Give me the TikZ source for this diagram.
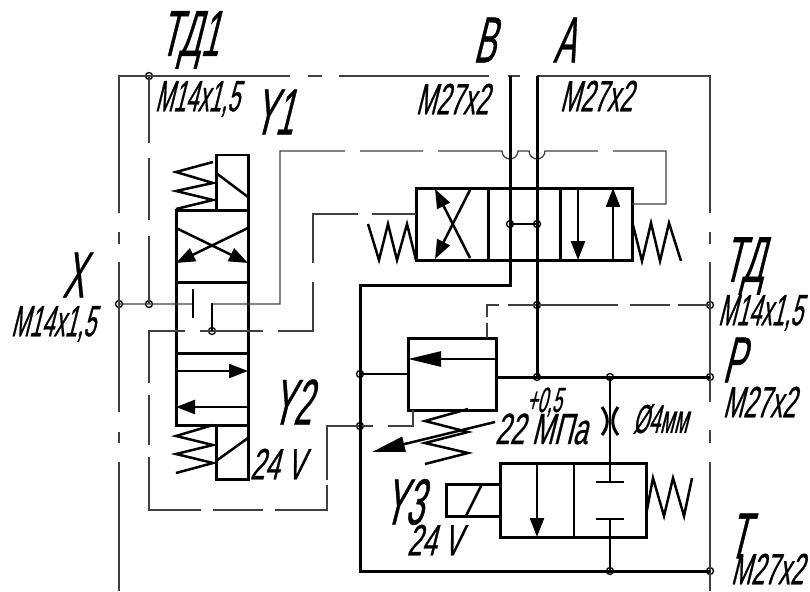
\documentclass[tikz,border=0pt]{standalone}
\usepackage{fontspec}
\usetikzlibrary{arrows.meta}
\newfontfamily\gostbig[FakeSlant=.25,FakeStretch=.5,FakeBold=.5]{Liberation Sans}
\newfontfamily\gostmid[FakeSlant=.25,FakeStretch=.55,FakeBold=.5]{Liberation Sans}
\newfontfamily\gostsmall[FakeSlant=.25,FakeStretch=.6,FakeBold=.5]{Liberation Sans}
\def\pxu{0.02cm}
\tikzstyle{signal} = [line width=0.026cm,black!75]
\tikzstyle{pipe} = [line width=0.06cm,black]
\tikzstyle{medium} = [line width=0.05cm,black]
\tikzstyle{spring} = [line width=0.05cm,black,line join=miter]
\tikzstyle{flow} = [line width=0.05cm,black,-{Triangle[length=0.38cm,width=0.28cm]}]
\tikzstyle{flowlong} = [line width=0.05cm,black,-{Triangle[length=0.66cm,width=0.3cm]}]
\tikzstyle{port} = [circle,draw=black,line width=0.026cm,inner sep=0pt,minimum size=7*\pxu]
\tikzstyle{valvebox} = [draw=black,line width=0.06cm,inner sep=0pt,outer sep=0pt]
\tikzstyle{biglabel} = [inner sep=0pt,font=\gostbig\fontsize{37}{37}\selectfont]
\tikzstyle{thread} = [inner sep=0pt,font=\gostbig\fontsize{25}{25}\selectfont]
\tikzstyle{threadwide} = [inner sep=0pt,font=\gostmid\fontsize{25}{25}\selectfont]
\tikzstyle{volt} = [inner sep=0pt,font=\gostsmall\fontsize{25}{25}\selectfont]

\begin{document}
\begin{tikzpicture}[x=0.02cm,y=-0.02cm]
        \useasboundingbox (0,0) rectangle (810,591);

        % Ports and junctions
        \node (portTDa) at (149,76) [port] {};
        \node (portXa) at (119,304) [port] {};
        \node (portTDb) at (149,304) [port] {};
        \node (pinY) at (212,331) [port] {};
        \node (junBa) at (510,224) [port] {};
        \node (junAa) at (537,224) [port] {};
        \node (junAb) at (537,305) [port] {};
        \node (junAc) at (537,377) [port] {};
        \node (junTa) at (360,374) [port] {};
        \node (junTb) at (360,426) [port] {};
        \node (junPa) at (610,377) [port] {};
        \node (junTc) at (610,571) [port] {};
        \node (portTDc) at (710,305) [port] {};
        \node (portP) at (710,377) [port] {};
        \node (portT) at (710,571) [port] {};

        % Valve bodies
        \node (pilotbody) at (212,317.5) [valvebox,minimum width=72*\pxu,minimum height=215*\pxu] {};
        \node (soltop) at (232,182.5) [valvebox,minimum width=32*\pxu,minimum height=55*\pxu] {};
        \node (solbot) at (232,452) [valvebox,minimum width=32*\pxu,minimum height=54*\pxu] {};
        \node (mainbody) at (524,224) [valvebox,minimum width=216*\pxu,minimum height=72*\pxu] {};
        \node (reliefbody) at (452,374) [valvebox,minimum width=88*\pxu,minimum height=72*\pxu] {};
        \node (dumpbody) at (573,500) [valvebox,minimum width=146*\pxu,minimum height=74*\pxu] {};
        \node (dumpsol) at (473,500) [valvebox,minimum width=54*\pxu,minimum height=32*\pxu] {};

        % Frame of the block
        \draw [signal] (119,591) -- (119,462) (119,443) -- (119,432) (119,412) -- (119,262) (119,244) -- (119,232) (119,213) -- (119,76)
                       -- (290,76) (308,76) -- (322,76) (339,76) -- (489,76) (508,76) -- (520,76) (537,76) -- (710,76)
                       -- (710,213) (710,232) -- (710,244) (710,262) -- (710,402) (710,430) -- (710,443) (710,462) -- (710,591);

        % Drain lines
        \draw [signal] (portTDa.center) -- (149,143) (149,158) -- (149,220) (149,236) -- (portTDb.center);
        \draw [signal] (portXa.center) -- (193,304) (212,304) -- (280,304) -- (280,151) -- (345,151) (360,151) -- (423,151) (438,151) -- (502,151)
                       arc (180:0:8) -- (529,151) arc (180:0:8) -- (598,151) (613,151) -- (666,151) -- (666,204) -- (mainbody.east |- 0,204);
        \draw [signal] (mainbody.west |- 0,214) -- (372,214) (358,214) -- (313,214) -- (313,263) (313,282) -- (313,331) -- (278,331) (263,331) -- (pinY.center)
                       -- (200,331) (185,331) -- (149,331) -- (149,383) (149,395) -- (149,445) (149,457) -- (149,510) -- (201,510) (213,510) -- (263,510) (275,510) -- (327,510)
                       -- (327,485) (327,480) -- (327,426) -- (373,426) (388,426) -- (413,426) -- (reliefbody.south -| 413,0);
        \draw [signal] (junAb.center) -- (508,305) (499,305) -- (487,305) -- (487,317) (487,323) -- (reliefbody.north -| 487,0);
        \draw [signal] (junAb.center) -- (618,305) (630,305) -- (670,305) (678,305) -- (portTDc.center);

        % Pressure lines
        \draw [pipe] (510,76) -- (510,285) -- (360,285) -- (junTb.center) -- (360,571) -- (portT.center);
        \draw [pipe] (537,76) -- (junAc.center);
        \draw [pipe] (reliefbody.east |- 0,377) -- (portP.center);
        \draw [medium] (junTa.center) -- (reliefbody.west |- 0,374);
        \draw [medium] (junBa.center) -- (junAa.center);

        % Pilot valve cells
        \draw [pipe] (176,282) -- (248,282) (176,353) -- (248,353);
        \draw [medium] (216,173) -- (248,197) (216,461) -- (248,438);
        \draw [flow] (176,228) -- (248,263);
        \draw [flow] (248,228) -- (176,263);
        \draw [medium] (193,289) -- (193,318);
        \draw [medium] (212,303) -- (pinY.center);
        \draw [flow] (176,371) -- (248,371);
        \draw [flow] (248,407) -- (176,407);
        \draw [spring] (213,162) -- (176,172) -- (213,183) -- (176,191) -- (213,200) -- (176,209);
        \draw [spring] (213,425) -- (176,436) -- (213,445) -- (176,454) -- (213,463) -- (176,473);

        % Main valve cells
        \draw [pipe] (488,188) -- (488,260) (560,188) -- (560,260);
        \draw [flow] (470,258) -- (435,189);
        \draw [flow] (470,190) -- (435,259);
        \draw [flow] (578,188) -- (578,260);
        \draw [flow] (613,260) -- (613,188);
        \draw [spring] (368,224) -- (379,260) -- (388,224) -- (397,260) -- (407,224) -- (416,260);
        \draw [spring] (633,225) -- (642,261) -- (651,223) -- (660,261) -- (669,223) -- (681,261);

        % Relief valve
        \draw [flowlong] (496,359) -- (408,359);
        \draw [spring] (468,409) -- (425,421) -- (468,432) -- (425,443) -- (468,453) -- (425,464);
        \draw [flowlong] (495,422) -- (372,452);

        % Dump valve and orifice
        \draw [medium] (574,463) -- (574,537);
        \draw [flow] (537,463) -- (537,537);
        \draw [medium] (482,484) -- (466,516);
        \draw [medium] (junPa.center) -- (610,482) (596,482) -- (624,482);
        \draw [medium] (596,519) -- (624,519) (610,519) -- (junTc.center);
        \draw [pipe] (602,407) .. controls (609,417) and (609,426) .. (602,435);
        \draw [pipe] (618,407) .. controls (611,417) and (611,426) .. (618,435);
        \draw [spring] (646,515) -- (653,478) -- (664,516) -- (673,478) -- (684,516) -- (692,478);

        % Labels
        \node (labelTDone) at (189,40) [biglabel] {ТД1};
        \node (threadTDone) at (197,99) [thread] {M14x1,5};
        \node (labelYone) at (273,112) [biglabel] {Y1};
        \node (labelB) at (484,40) [biglabel] {B};
        \node (threadB) at (452,99) [threadwide] {M27x2};
        \node (labelA) at (564,40) [biglabel] {A};
        \node (threadA) at (596,96) [threadwide] {M27x2};
        \node (labelX) at (73,275) [biglabel] {X};
        \node (threadX) at (53,324) [thread] {M14x1,5};
        \node (labelYtwo) at (291,402) [biglabel] {Y2};
        \node (voltYtwo) at (277,464) [volt] {24 V};
        \node (labelTD) at (743,266) [biglabel] {ТД};
        \node (threadTD) at (760,313) [thread] {M14x1,5};
        \node (labelP) at (733,360) [biglabel] {P};
        \node (threadP) at (759,402) [threadwide] {M27x2};
        \node (labelT) at (738,536) [biglabel] {T};
        \node (threadT) at (767,569) [threadwide] {M27x2};
        \node (labelOrifice) at (660,419) [inner sep=0pt,font=\gostbig\fontsize{23}{23}\selectfont] {Ø4мм};
        \node (labelPress) at (541,429) [volt] {22 МПа};
        \node (labelTol) at (544,402) [inner sep=0pt,font=\gostbig\fontsize{20}{20}\selectfont] {+0,5};
        \node (labelYthree) at (403,502) [biglabel] {Y3};
        \node (voltYthree) at (434,540) [volt] {24 V};
    \end{tikzpicture}
\end{document}
